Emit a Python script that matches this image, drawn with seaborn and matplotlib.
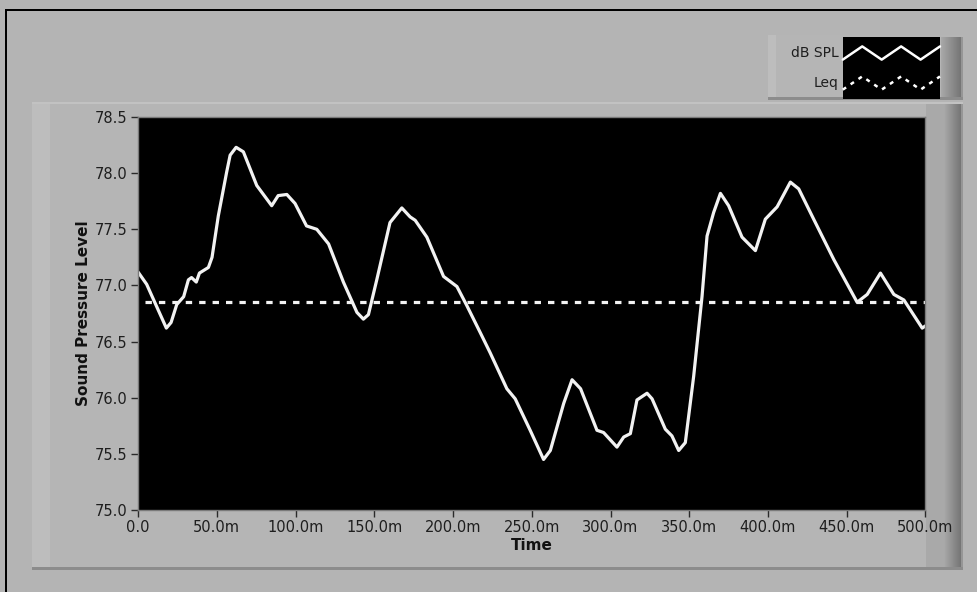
import numpy as np
import matplotlib
matplotlib.use("Agg")
import matplotlib.pyplot as plt
from matplotlib.patches import Rectangle
from matplotlib.lines import Line2D
from matplotlib.legend_handler import HandlerBase
from matplotlib.ticker import FuncFormatter, MultipleLocator
import seaborn as sns

# values (time in seconds, level in dB)
time_s = [0.0, 0.0055, 0.018, 0.021, 0.0246, 0.029, 0.032, 0.034, 0.037, 0.039,
          0.0447, 0.047, 0.051, 0.0563, 0.0585, 0.0623, 0.0669, 0.0754, 0.0849, 0.089,
          0.0945, 0.0997, 0.107, 0.1135, 0.121, 0.1304, 0.139, 0.1431, 0.1463, 0.1516,
          0.160, 0.1675, 0.1728, 0.176, 0.1834, 0.194, 0.2025, 0.2088, 0.2173, 0.2236,
          0.2342, 0.2395, 0.249, 0.2575, 0.2618, 0.2703, 0.2756, 0.281, 0.2914, 0.2956,
          0.3041, 0.3084, 0.3126, 0.3168, 0.3232, 0.3264, 0.3348, 0.339, 0.3433, 0.3475,
          0.3528, 0.3581, 0.3613, 0.3655, 0.3698, 0.375, 0.3835, 0.392, 0.3983, 0.4058,
          0.4142, 0.4195, 0.429, 0.4418, 0.4566, 0.463, 0.4714, 0.4799, 0.4863, 0.4979,
          0.50]
spl_db = [77.12, 77.01, 76.62, 76.67, 76.83, 76.90, 77.05, 77.07, 77.03, 77.11,
          77.16, 77.25, 77.62, 78.01, 78.16, 78.23, 78.19, 77.89, 77.71, 77.80,
          77.81, 77.73, 77.53, 77.50, 77.37, 77.03, 76.76, 76.70, 76.74, 77.05,
          77.56, 77.69, 77.61, 77.58, 77.43, 77.08, 76.99, 76.82, 76.58, 76.40,
          76.08, 75.99, 75.71, 75.45, 75.53, 75.95, 76.16, 76.08, 75.71, 75.69,
          75.56, 75.65, 75.68, 75.98, 76.04, 75.99, 75.72, 75.66, 75.53, 75.60,
          76.19, 76.90, 77.44, 77.65, 77.82, 77.71, 77.43, 77.31, 77.59, 77.70,
          77.92, 77.86, 77.59, 77.23, 76.85, 76.92, 77.11, 76.92, 76.87, 76.62,
          76.64]
leq_time = [0.0045, 0.5]
leq_db = [76.85, 76.85]
series_names = ["dB SPL", "Leq"]

W, H = 978, 592
BG = "#b4b4b4"

sns.set_theme(style="white")
plt.rcParams["font.family"] = ["DejaVu Sans"]

fig = plt.figure(figsize=(W / 100, H / 100), dpi=100, facecolor=BG)


def fx(x):
    return x / W


def fy(y):
    return 1 - y / H


def box(x0, y0, x1, y1, color, z=-5):
    fig.add_artist(Rectangle((fx(x0), fy(y1)), fx(x1) - fx(x0), fy(y0) - fy(y1),
                             transform=fig.transFigure, facecolor=color,
                             edgecolor="none", zorder=z))


def side_shade(x0, x1, y0, y1):
    # darkening strip on the right of a LabVIEW panel
    n = x1 - x0
    for i in range(n):
        g = int(168 - 50 * i / max(n - 3, 1)) if i < n - 2 else 150
        box(x0 + i, y0, x0 + i + 1, y1, "#%02x%02x%02x" % (g, g, g), z=-4)


# outer frame
box(5, 9, W, 11, "black", z=-3)
box(5, 9, 7, H, "black", z=-3)

# graph frame
box(32, 102, 963, 570, "#b5b5b5")
box(32, 102, 50, 570, "#bdbdbd")
box(32, 102, 963, 104, "#c2c2c2")
box(926, 104, 944, 568, "#a9a9a9")
side_shade(944, 963, 104, 568)
box(32, 567, 963, 570, "#8c8c8c", z=-3)

# legend frame
box(768, 35, 963, 100, "#b5b5b5")
box(768, 35, 776, 100, "#bdbdbd")
side_shade(941, 963, 37, 98)
box(768, 97, 963, 100, "#8c8c8c", z=-3)

ax = fig.add_axes([fx(138), fy(510), fx(925.5) - fx(138), fy(117) - fy(510)])
ax.set_facecolor("black")

sns.lineplot(x=time_s, y=spl_db, ax=ax, color="#f2f2f2", linewidth=2.3,
             estimator=None, sort=False)
sns.lineplot(x=leq_time, y=leq_db, ax=ax, color="#f2f2f2", linewidth=2.3,
             linestyle=(0, (2.0, 2.2)), estimator=None, sort=False)

ax.set_xlim(0, 0.5)
ax.set_ylim(75.0, 78.5)
ax.xaxis.set_major_locator(MultipleLocator(0.05))
ax.yaxis.set_major_locator(MultipleLocator(0.5))
ax.xaxis.set_major_formatter(FuncFormatter(
    lambda v, p: "0.0" if abs(v) < 1e-9 else f"{v * 1000:.1f}m"))
ax.yaxis.set_major_formatter(FuncFormatter(lambda v, p: f"{v:.1f}"))
ax.tick_params(axis="both", which="major", direction="out", length=5, width=1,
               color="#2a2a2a", labelcolor="#1e1e1e", labelsize=10.5, pad=2.5,
               bottom=True, left=True)
for sp in ax.spines.values():
    sp.set_color("#7a7a7a")
    sp.set_linewidth(1)

ax.set_xlabel("Time", fontsize=11, fontweight="bold", color="#111111", labelpad=2)
ax.set_ylabel("Sound Pressure Level", fontsize=11, fontweight="bold",
              color="#111111", labelpad=3)


class ZigzagHandler(HandlerBase):
    def __init__(self, dashed):
        super().__init__()
        self.dashed = dashed

    def create_artists(self, legend, orig_handle, xdescent, ydescent, width, height,
                       fontsize, trans):
        x0, y0 = -xdescent, -ydescent
        bg = Rectangle((x0, y0 - 0.6), width, height + 1.2, facecolor="black",
                       edgecolor="none", transform=trans)
        xs = x0 + width * np.array([0.0, 0.2, 0.4, 0.6, 0.8, 1.0])
        mid = y0 + height * 0.5
        amp = height * 0.22
        ys = mid + amp * np.array([-1, 1, -1, 1, -1, 1])
        ls = (0, (1.6, 2.2)) if self.dashed else "-"
        zig = Line2D(xs, ys, color="white", linewidth=1.8, linestyle=ls,
                     transform=trans)
        return [bg, zig]


handles = [Line2D([], [], color="white"), Line2D([], [], color="white")]
fig.legend(handles, series_names,
           handler_map={handles[0]: ZigzagHandler(False),
                        handles[1]: ZigzagHandler(True)},
           loc="upper right", bbox_to_anchor=(fx(940), fy(38)),
           frameon=False, markerfirst=False, fontsize=10,
           handlelength=7.0, handleheight=2.95, handletextpad=0.3,
           labelspacing=0, borderpad=0, borderaxespad=0, labelcolor="#1e1e1e")

fig.savefig("out.png", dpi=100, facecolor=BG)
